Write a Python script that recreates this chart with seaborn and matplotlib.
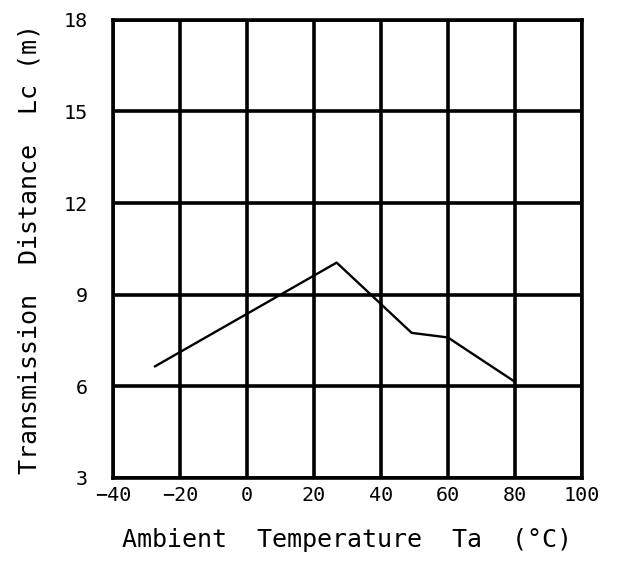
"""Transmission distance vs ambient temperature, redrawn with seaborn."""

import matplotlib
matplotlib.use("Agg")
import matplotlib.pyplot as plt
import pandas as pd
import seaborn as sns

# values
temperature = [-27.5, 26.8, 49.2, 60.0, 80.0]
distance = [6.65, 10.05, 7.75, 7.6, 6.15]

x_ticks = [-40, -20, 0, 20, 40, 60, 80, 100]
y_ticks = [3, 6, 9, 12, 15, 18]

sns.set_theme(style="white")
plt.rcParams["font.family"] = ["DejaVu Sans Mono", "DejaVu Sans"]

df = pd.DataFrame({"temp": temperature, "dist": distance})

fig = plt.figure(figsize=(6.17, 5.64), dpi=100)
ax = fig.add_axes([0.183, 0.1525, 0.76, 0.8125])

sns.lineplot(data=df, x="temp", y="dist", color="black", linewidth=1.7, ax=ax)

ax.set_xlim(-40, 100)
ax.set_ylim(3, 18)
ax.set_xticks(x_ticks)
ax.set_yticks(y_ticks)
ax.grid(True, color="black", linewidth=2.6)
ax.set_axisbelow(True)
for spine in ax.spines.values():
    spine.set_color("black")
    spine.set_linewidth(2.6)

ax.tick_params(axis="both", length=0, labelsize=14.5, colors="black")
ax.tick_params(axis="x", pad=6)
ax.tick_params(axis="y", pad=18)

ax.set_xlabel("Ambient  Temperature  Ta  (°C)", fontsize=18, labelpad=16, color="black")
ax.set_ylabel("Transmission  Distance  Lc (m)", fontsize=18, labelpad=16, color="black")

fig.savefig("out.png", dpi=100, facecolor="white")
plt.close(fig)
